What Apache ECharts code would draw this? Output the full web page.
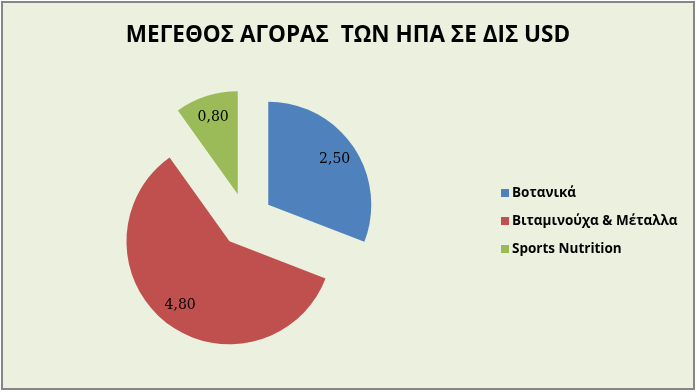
<!DOCTYPE html>
<html>
<head>
<meta charset="utf-8">
<script src="https://cdn.jsdelivr.net/npm/echarts@6/dist/echarts.min.js"></script>
<style>
html,body{margin:0;padding:0;background:#ffffff;}
#chart{position:absolute;left:1px;top:1px;width:694px;height:389px;border:2px solid #858585;box-sizing:border-box;background:#EBF1DE;}
</style>
</head>
<body>
<div id="chart"></div>
<script>
var titleText = 'ΜΕΓΕΘΟΣ ΑΓΟΡΑΣ  ΤΩΝ ΗΠΑ ΣΕ ΔΙΣ USD';
var categories = ['Βοτανικά', 'Βιταμινούχα & Μέταλλα', 'Sports Nutrition'];
var values = [2.50, 4.80, 0.80];
var colors = ['#4F81BD', '#C0504D', '#9BBB59'];

var chart = echarts.init(document.getElementById('chart'), null, {renderer: 'canvas'});
var dataMain = categories.map(function (c, i) {
  return {name: c, value: values[i], selected: true, itemStyle: {color: colors[i]}};
});
var dataLabel = categories.map(function (c, i) {
  return {name: c, value: values[i], selected: true, itemStyle: {color: 'rgba(0,0,0,0)'}};
});
var center = [243, 217];
var option = {
  backgroundColor: '#EBF1DE',
  animation: false,
  title: {
    text: titleText,
    left: 'center',
    top: 16,
    textStyle: {fontFamily: 'Open Sans', fontSize: 22.5, fontWeight: 'bold', color: '#000000'}
  },
  legend: {
    orient: 'vertical',
    left: 493,
    top: 178,
    itemWidth: 8,
    itemHeight: 8,
    itemGap: 14,
    icon: 'rect',
    selectedMode: false,
    data: categories,
    textStyle: {fontFamily: 'Open Sans', fontSize: 13.5, fontWeight: 'bold', color: '#000000', padding: [0, 0, 0, -2]}
  },
  series: [
    {
      type: 'pie',
      center: center,
      radius: [0, 103],
      startAngle: 90,
      clockwise: true,
      selectedMode: 'multiple',
      selectedOffset: 27,
      silent: true,
      label: {show: false},
      labelLine: {show: false},
      emphasis: {disabled: true},
      data: dataMain
    },
    {
      type: 'pie',
      center: center,
      radius: [52, 103],
      startAngle: 90,
      clockwise: true,
      selectedMode: 'multiple',
      selectedOffset: 27,
      silent: true,
      label: {
        show: true,
        position: 'inside',
        fontFamily: 'DejaVu Serif',
        fontSize: 14,
        color: '#000000',
        formatter: function (p) { return p.value.toFixed(2).replace('.', ','); }
      },
      labelLine: {show: false},
      emphasis: {disabled: true},
      data: dataLabel
    }
  ]
};
chart.setOption(option);
</script>
</body>
</html>
